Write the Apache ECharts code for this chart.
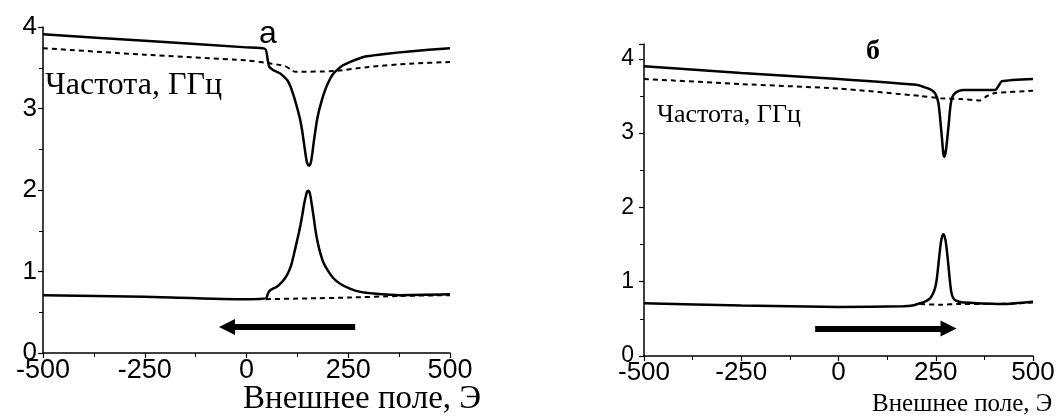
<!DOCTYPE html>
<html>
<head>
<meta charset="utf-8">
<script src="https://cdn.jsdelivr.net/npm/echarts@6/dist/echarts.min.js"></script>
<style>
  html, body { margin: 0; padding: 0; background: #fff; }
  #chart { width: 1064px; height: 419px; }
</style>
</head>
<body>
<div id="chart"></div>
<script>
// панель "а" — поле уменьшается (стрелка влево)
const upperSolidA = [[-500,3.91],[-250,3.83],[0,3.75],[46,3.73],[52,3.60],[56,3.51],[66,3.47],[75,3.45],[83,3.43],[92,3.39],[100,3.35],[108,3.27],[115,3.17],[121,3.07],[127,2.96],[132,2.86],[137,2.72],[141,2.58],[145,2.44],[148,2.35],[151,2.31],[153,2.30],[156,2.31],[159,2.36],[162,2.46],[165,2.58],[169,2.72],[173,2.85],[178,2.97],[185,3.10],[192,3.21],[201,3.32],[211,3.41],[222,3.47],[237,3.53],[254,3.57],[275,3.61],[295,3.64],[340,3.67],[400,3.70],[500,3.74]];
const upperDashA = [[-500,3.74],[-250,3.66],[0,3.59],[50,3.56],[95,3.52],[108,3.48],[120,3.45],[215,3.46],[300,3.51],[400,3.55],[500,3.57]];
const lowerSolidA = [[-500,0.71],[-250,0.69],[0,0.66],[48,0.67],[52,0.72],[56,0.76],[65,0.79],[74,0.81],[85,0.86],[95,0.92],[103,0.99],[110,1.08],[116,1.20],[122,1.33],[128,1.46],[133,1.58],[138,1.72],[142,1.84],[146,1.93],[149,1.98],[152,1.99],[155,1.97],[158,1.90],[161,1.80],[165,1.67],[169,1.52],[174,1.38],[180,1.25],[189,1.11],[200,1.01],[213,0.92],[230,0.85],[254,0.79],[280,0.75],[312,0.73],[377,0.71],[500,0.72]];
const lowerDashA = [[48,0.66],[150,0.67],[250,0.68],[377,0.70],[500,0.71]];
const arrowA = [[267,0.32],[-48,0.32]];

// панель "б" — поле увеличивается (стрелка вправо)
const upperSolidB = [[-500,3.90],[-250,3.81],[0,3.73],[200,3.65],[220,3.62],[236,3.59],[244,3.56],[249,3.53],[253,3.48],[257,3.40],[260,3.27],[263,3.10],[266,2.93],[268,2.80],[270,2.71],[272,2.68],[274,2.71],[277,2.80],[280,2.95],[283,3.10],[286,3.28],[289,3.41],[293,3.49],[300,3.54],[310,3.57],[321,3.58],[403,3.58],[412,3.64],[420,3.70],[500,3.73]];
const upperDashB = [[-500,3.73],[-250,3.66],[0,3.60],[210,3.50],[262,3.47],[313,3.46],[364,3.44],[382,3.50],[403,3.54],[500,3.57]];
const lowerSolidB = [[-500,0.71],[-250,0.68],[0,0.66],[167,0.67],[190,0.68],[210,0.71],[225,0.74],[236,0.78],[243,0.84],[249,0.93],[253,1.05],[257,1.24],[260,1.39],[263,1.52],[266,1.60],[269,1.64],[272,1.62],[275,1.56],[278,1.45],[281,1.30],[284,1.14],[287,0.98],[290,0.86],[294,0.79],[300,0.75],[310,0.73],[321,0.72],[424,0.70],[500,0.73]];
const lowerDashB = [[210,0.70],[260,0.69],[313,0.70],[400,0.70],[500,0.72]];
const arrowB = [[-60,0.37],[283,0.37]];

const chart = echarts.init(document.getElementById('chart'));

function xAxisFor(idx, size) {
  return {
    type: 'value', gridIndex: idx, min: -500, max: 500, interval: 250,
    axisLine: { onZero: false, lineStyle: { color: '#000', width: 1.5 } },
    axisTick: { length: 5, lineStyle: { color: '#000', width: 1.2 } },
    minorTick: { show: true, splitNumber: 2, length: 4, lineStyle: { color: '#000', width: 1 } },
    splitLine: { show: false },
    axisLabel: { color: '#000', fontSize: size, fontFamily: 'Liberation Sans', margin: 4 }
  };
}
function yAxisFor(idx, max, size, gap) {
  return {
    type: 'value', gridIndex: idx, min: 0, max: max, interval: 1,
    axisLine: { show: true, onZero: false, lineStyle: { color: '#000', width: 1.5 } },
    axisTick: { show: true, length: 5, lineStyle: { color: '#000', width: 1.2 } },
    minorTick: { show: true, splitNumber: 2, length: 4, lineStyle: { color: '#000', width: 1 } },
    splitLine: { show: false },
    axisLabel: {
      color: '#000', fontSize: size, fontFamily: 'Liberation Sans', margin: gap,
      formatter: v => (Number.isInteger(v) ? String(v) : '')
    }
  };
}

function curve(data, idx, dashed) {
  return {
    type: 'line', xAxisIndex: idx, yAxisIndex: idx, data: data,
    showSymbol: false, smooth: 0.2, silent: true,
    lineStyle: dashed ? { color: '#000', width: 2, type: [5, 4] } : { color: '#000', width: 2.5 },
    z: dashed ? 2 : 3
  };
}
function arrow(coords, idx) {
  return {
    type: 'lines', coordinateSystem: 'cartesian2d', xAxisIndex: idx, yAxisIndex: idx,
    symbol: ['none', 'triangle'], symbolSize: [12, 16], silent: true,
    lineStyle: { color: '#000', width: 6, opacity: 1, curveness: 0 },
    data: [{ coords: coords }]
  };
}

chart.setOption({
  animation: false,
  backgroundColor: '#fff',
  grid: [
    { left: 43, right: 614, top: 27, bottom: 66 },
    { left: 644, right: 31, top: 44, bottom: 63 }
  ],
  xAxis: [xAxisFor(0, 27), xAxisFor(1, 26)],
  yAxis: [yAxisFor(0, 4, 26, 6), yAxisFor(1, 4.2, 23, 10)],
  series: [
    curve(upperDashA, 0, true), curve(lowerDashA, 0, true),
    curve(upperSolidA, 0, false), curve(lowerSolidA, 0, false),
    arrow(arrowA, 0),
    curve(upperDashB, 1, true), curve(lowerDashB, 1, true),
    curve(upperSolidB, 1, false), curve(lowerSolidB, 1, false),
    arrow(arrowB, 1)
  ],
  graphic: [
    { type: 'text', x: 45, y: 86, style: { text: 'Частота, ГГц', font: '32px "Liberation Serif"', fill: '#000', textVerticalAlign: 'middle' } },
    { type: 'text', x: 657, y: 115, style: { text: 'Частота, ГГц', font: '26px "Liberation Serif"', fill: '#000', textVerticalAlign: 'middle' } },
    { type: 'text', x: 243, y: 399, style: { text: 'Внешнее поле, Э', font: '33px "Liberation Serif"', fill: '#000', textVerticalAlign: 'middle' } },
    { type: 'text', x: 872, y: 404, style: { text: 'Внешнее поле, Э', font: '25px "Liberation Serif"', fill: '#000', textVerticalAlign: 'middle' } },
    { type: 'text', x: 259, y: 34, style: { text: 'а', font: '32px "Liberation Sans"', fill: '#000', textVerticalAlign: 'middle' } },
    { type: 'text', x: 866, y: 52, style: { text: 'б', font: 'bold 28px "Liberation Serif"', fill: '#000', textVerticalAlign: 'middle' } }
  ]
});
</script>
</body>
</html>
